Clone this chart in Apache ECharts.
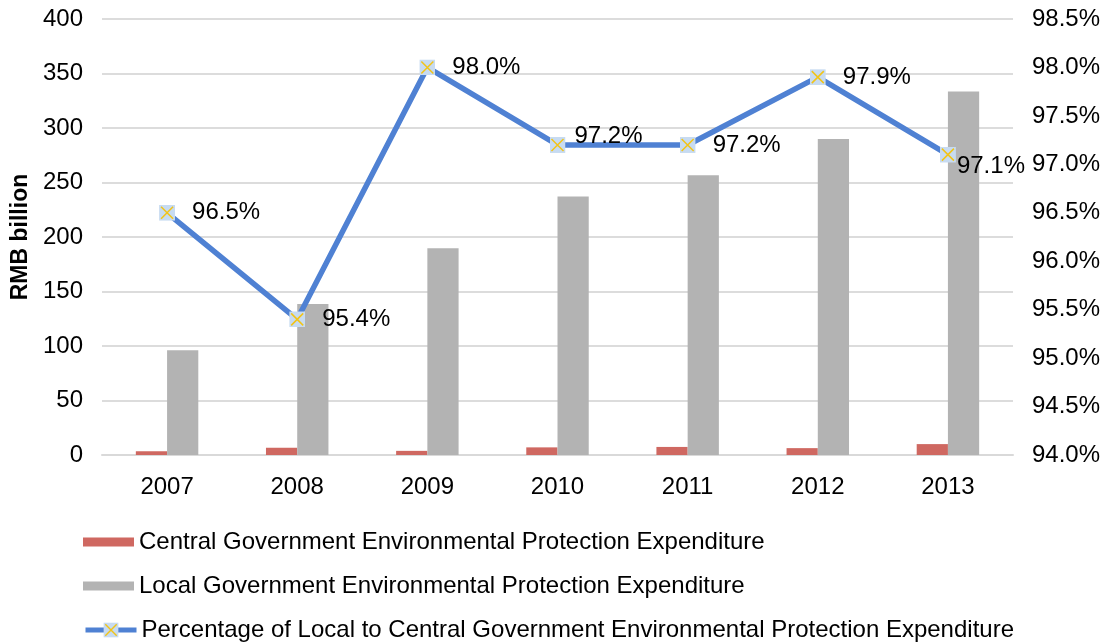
<!DOCTYPE html>
<html>
<head>
<meta charset="utf-8">
<script src="https://cdn.jsdelivr.net/npm/echarts@6/dist/echarts.min.js"></script>
<style>
  html, body { margin: 0; padding: 0; background: #ffffff; }
  #chart { width: 1106px; height: 643px; }
</style>
</head>
<body>
<div id="chart"></div>
<script>
// Environmental protection expenditure, RMB billion
const years = ['2007', '2008', '2009', '2010', '2011', '2012', '2013'];
const centralSpend = [3.5, 6.6, 3.8, 7.0, 7.4, 6.3, 10.0];
const localSpend = [96.1, 138.5, 189.6, 237.2, 256.6, 290.0, 333.5];
// Local share of the total, percent
const localShare = [96.5, 95.4, 98.0, 97.2, 97.2, 97.9, 97.1];

const seriesNames = [
  'Central Government Environmental Protection Expenditure',
  'Local Government Environmental Protection Expenditure',
  'Percentage of Local to Central Government Environmental Protection Expenditure'
];

const FONT = '"Liberation Sans", Arial, Helvetica, sans-serif';
const FS = 24;

// square marker with a yellow cross
const markerSvg =
  "<svg xmlns='http://www.w3.org/2000/svg' width='32' height='32' viewBox='0 0 32 32'>" +
  "<rect x='0' y='0' width='32' height='32' fill='#c7dbf1'/>" +
  "<path d='M4,4L28,28M28,4L4,28' stroke='#f2c418' stroke-width='3'/>" +
  "</svg>";
const markerSymbol = 'image://data:image/svg+xml;charset=utf-8,' + encodeURIComponent(markerSvg);

// per-point nudges for the percentage labels
const labelNudge = { 3: [-8, -9], 6: [-16, 12] };

const shareData = localShare.map((v, i) => {
  const item = { value: v };
  if (labelNudge[i]) item.label = { offset: labelNudge[i] };
  return item;
});

const legendText = { fontFamily: FONT, fontSize: FS, color: '#000', lineHeight: 24 };

const chart = echarts.init(document.getElementById('chart'), null, { renderer: 'canvas' });

chart.setOption({
  animation: false,
  backgroundColor: '#ffffff',
  textStyle: { fontFamily: FONT, color: '#000' },
  grid: { left: 102, right: 93, top: 19, bottom: 188, containLabel: false },
  legend: [
    {
      data: [
        { name: seriesNames[0], icon: 'rect' },
        { name: seriesNames[1], icon: 'rect' }
      ],
      orient: 'vertical',
      left: 78,
      top: 525,
      itemWidth: 51,
      itemHeight: 9,
      itemGap: 20,
      selectedMode: false,
      textStyle: legendText
    },
    {
      data: [seriesNames[2]],
      orient: 'vertical',
      left: 78,
      top: 613,
      itemWidth: 51,
      itemHeight: 19,
      selectedMode: false,
      lineStyle: { width: 5 },
      textStyle: legendText
    }
  ],
  xAxis: {
    type: 'category',
    data: years,
    axisLine: { lineStyle: { color: '#d9d9d9', width: 2 } },
    axisTick: { show: false },
    axisLabel: { fontFamily: FONT, fontSize: FS, color: '#000', margin: 20 }
  },
  yAxis: [
    {
      type: 'value',
      min: 0,
      max: 400,
      interval: 50,
      name: 'RMB billion',
      nameLocation: 'middle',
      nameGap: 68,
      nameTextStyle: { fontFamily: FONT, fontSize: 23, fontWeight: 'bold', color: '#000' },
      axisLine: { show: false },
      axisTick: { show: false },
      axisLabel: { fontFamily: FONT, fontSize: FS, color: '#000', margin: 19, padding: [3, 0, 0, 0] },
      splitLine: { lineStyle: { color: '#dcdcdc', width: 2 } }
    },
    {
      type: 'value',
      min: 94,
      max: 98.5,
      interval: 0.5,
      position: 'right',
      axisLine: { show: false },
      axisTick: { show: false },
      splitLine: { show: false },
      axisLabel: {
        fontFamily: FONT, fontSize: FS, color: '#000', margin: 19, padding: [3, 0, 0, 0],
        formatter: v => v.toFixed(1) + '%'
      }
    }
  ],
  series: [
    {
      name: seriesNames[0],
      type: 'bar',
      data: centralSpend,
      barWidth: '24%',
      barGap: '0%',
      itemStyle: { color: '#cf6861' }
    },
    {
      name: seriesNames[1],
      type: 'bar',
      data: localSpend,
      barWidth: '24%',
      barGap: '0%',
      itemStyle: { color: '#b3b3b3' }
    },
    {
      name: seriesNames[2],
      type: 'line',
      yAxisIndex: 1,
      data: shareData,
      symbol: markerSymbol,
      symbolSize: 16,
      lineStyle: { color: '#4f81d3', width: 5.5 },
      itemStyle: { color: '#4f81d3' },
      emphasis: { disabled: true },
      z: 5,
      label: {
        show: true,
        position: 'right',
        distance: 17,
        fontFamily: FONT,
        fontSize: FS,
        color: '#000',
        formatter: p => p.value.toFixed(1) + '%'
      }
    }
  ]
});
</script>
</body>
</html>
